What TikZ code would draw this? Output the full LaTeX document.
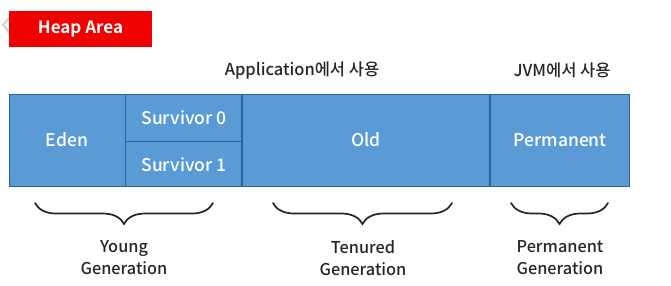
\documentclass[tikz,border=0pt]{standalone}
\usepackage{fontspec}
\setmainfont{Noto Sans CJK KR}[UprightFont={* Medium}, BoldFont={* Bold}]
\usetikzlibrary{positioning, decorations.pathreplacing}

\definecolor{heapred}{HTML}{F00000}
\definecolor{cellfill}{HTML}{5B9BD5}
\definecolor{cellline}{HTML}{2C6296}
\definecolor{textgray}{HTML}{262626}

\begin{document}
\begin{tikzpicture}[
    x=1pt, y=-1pt,
    font=\fontsize{17.5}{19}\selectfont,
    title/.style={rectangle, fill=heapred, text=white, inner sep=0pt,
                  minimum width=143pt, minimum height=36pt,
                  font=\fontsize{17}{19}\selectfont\bfseries},
    cell/.style={rectangle, draw=cellline, fill=cellfill, text=white,
                 line width=0.9pt, inner sep=0pt},
    usage/.style={text=textgray, inner sep=0pt,
                  font=\fontsize{16.5}{18}\selectfont},
    gen/.style={align=center, text=textgray, inner sep=0pt,
                font=\fontsize{16.3}{22}\selectfont},
    brc/.style={decorate, decoration={brace, mirror, amplitude=21pt},
                line width=1.7pt, draw=textgray, line cap=round},
]
\useasboundingbox (0,0) rectangle (671,286);

% back arrow of the slide viewer
\draw[gray!35, line width=2.2pt, line join=round] (12,15) -- (3,25) -- (12,35);

\node[title] (heap) at (80.5,29) {Heap Area};

% heap cells
\node[cell, minimum width=116pt, minimum height=92pt] (eden) at (67,140) {Eden};
\node[cell, minimum width=116pt, minimum height=47pt, anchor=north west]
     (surv0) at (eden.north east) {Survivor 0};
\node[cell, minimum width=116pt, minimum height=45pt, anchor=north west]
     (surv1) at (surv0.south west) {Survivor 1};
\node[cell, minimum width=247pt, minimum height=92pt, anchor=north west]
     (old) at (surv0.north east) {Old};
\node[cell, minimum width=139pt, minimum height=92pt, anchor=north west]
     (perm) at (old.north east) {Permanent};

% who uses it
\node[usage] (app) at (302,70) {Application에서 사용};
\node[usage] (jvm) at (562,70) {JVM에서 사용};

% generations
\draw[brc] (35,203) -- (213,203);
\draw[brc] (273,203) -- (452,203);
\draw[brc] (511,203) -- (608,203);

\node[gen] (young)   at (124,258) {Young\\Generation};
\node[gen] (tenured) at (363,258) {Tenured\\Generation};
\node[gen] (permgen) at (560,258) {Permanent\\Generation};

\end{tikzpicture}
\end{document}
